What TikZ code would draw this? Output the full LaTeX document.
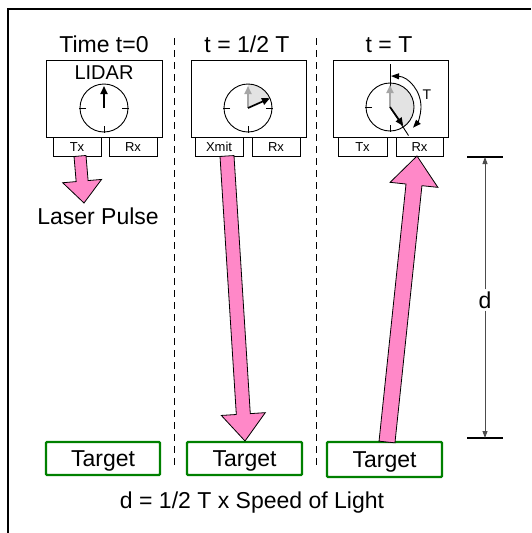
\documentclass[tikz,border=0pt]{standalone}
\usepackage{fontspec}
\setmainfont{Liberation Sans}
\usetikzlibrary{calc,arrows.meta}
\definecolor{pinkfill}{RGB}{255,136,200}
\definecolor{tgreen}{RGB}{0,128,0}
\definecolor{handgray}{RGB}{166,166,166}
\definecolor{sectorgray}{RGB}{227,227,227}
\newcommand\fatarrow[5]{%
  \path ($(#2)!#5!(#1)$) coordinate (fah);
  \draw[pinkarrow] ($(#1)!#3!90:(#2)$) -- ($(fah)!#3!90:(#2)$) -- ($(fah)!#4!90:(#2)$) -- (#2)
    -- ($(fah)!#4!-90:(#2)$) -- ($(fah)!#3!-90:(#2)$) -- ($(#1)!#3!-90:(#2)$) -- cycle;}
\begin{document}
\begin{tikzpicture}[x=1pt,y=1pt,
  big/.style={font=\fontsize{23}{27}\selectfont},
  mid/.style={font=\fontsize{20}{24}\selectfont},
  small/.style={font=\fontsize{13}{15}\selectfont},
  unitbox/.style={draw, line width=0.8pt, inner sep=0pt},
  subbox/.style={draw, line width=0.8pt, inner sep=0pt, minimum height=19pt, small, text height=9.5pt, text depth=0pt},
  target/.style={draw=tgreen, line width=2.2pt, rounded corners=1pt, inner sep=0pt, minimum height=33pt, big, text height=16.5pt, text depth=0pt},
  pinkarrow/.style={draw=black, line width=0.8pt, fill=pinkfill, line join=miter},
  sep/.style={draw, line width=0.8pt, dash pattern=on 7pt off 5pt},
  clockface/.style={draw, line width=0.9pt},
  tick/.style={draw, line width=0.9pt},
  blackhand/.style={draw, line width=1.7pt, -{Triangle[length=8pt,width=7pt]}},
  grayhand/.style={draw=handgray, line width=1.7pt, -{Triangle[length=8pt,width=7pt]}},
  dimline/.style={draw=black!70, line width=0.9pt, -{Triangle[length=7pt,width=5pt]}},
]
\useasboundingbox (0,0) rectangle (531,-533);
% outer frame
\draw[line width=2pt] (7.5,-533) -- (7.5,-8.5) -- (531,-8.5);

% separators
\draw[sep] (174,-38) -- (174,-465);
\draw[sep] (316,-38) -- (316,-465);

% headers
\node[big, anchor=base] (h1) at (104,-52) {Time t=0};
\node[big, anchor=base] (h2) at (247,-52) {t = 1/2 T};
\node[big, anchor=base] (h3) at (389,-52) {t = T};

% unit boxes
\node[unitbox, minimum width=116pt, minimum height=77pt] (box1) at (104,-98.5) {};
\node[unitbox, minimum width=115pt, minimum height=77pt] (box2) at (248.5,-98.5) {};
\node[unitbox, minimum width=115pt, minimum height=77pt] (box3) at (390.5,-98.5) {};
\node[mid, anchor=base] (lidar) at (104,-79) {LIDAR};

% sub boxes
\node[subbox, minimum width=48pt] (tx1) at (77,-146.5) {Tx};
\node[subbox, minimum width=48pt] (rx1) at (133,-146.5) {Rx};
\node[subbox, minimum width=48pt] (xmit2) at (219,-146.5) {Xmit};
\node[subbox, minimum width=48pt] (rx2) at (276,-146.5) {Rx};
\node[subbox, minimum width=49pt] (tx3) at (362.5,-146.5) {Tx};
\node[subbox, minimum width=47pt] (rx3) at (419.5,-146.5) {Rx};

% clock 1
\coordinate (c1) at (104,-108);
\draw[clockface] (c1) circle[radius=24];
\foreach \a in {0,180,270} \draw[tick] (c1) ++(\a:18) -- ++(\a:7);
\draw[blackhand] (c1) -- ++(90:22);

% clock 2
\coordinate (c2) at (248,-108);
\fill[sectorgray] (c2) -- ++(90:24) arc[start angle=90, end angle=24, radius=24] -- cycle;
\draw[clockface] (c2) circle[radius=24];
\foreach \a in {0,180,270} \draw[tick] (c2) ++(\a:18) -- ++(\a:7);
\draw[grayhand] (c2) -- ++(90:22);
\draw[blackhand] (c2) -- ++(24:24);

% clock 3
\coordinate (c3) at (390,-107);
\fill[sectorgray] (c3) -- ++(90:24) arc[start angle=90, end angle=-56, radius=24] -- cycle;
\draw[clockface] (c3) circle[radius=24];
\foreach \a in {180,270} \draw[tick] (c3) ++(\a:18) -- ++(\a:7);
\draw[line width=0.9pt] (c3) -- ++(90:43);
\draw[line width=0.9pt] (c3) -- ++(-57:34);
\draw[grayhand] (c3) -- ++(90:22);
\draw[blackhand] (c3) -- ++(-55:23);
\draw[line width=0.9pt, {Triangle[length=8pt,width=6pt]}-{Triangle[length=8pt,width=6pt]}]
  (c3) ++(88:31) arc[start angle=88, end angle=-42, radius=31];
\node[small, font=\fontsize{14}{16}\selectfont] (tlab) at (427,-95) {T};

% laser pulse label
\node[big, anchor=base] (pulse) at (98,-224) {Laser Pulse};

% targets
\node[target, minimum width=114pt] (t1) at (103,-458.5) {Target};
\node[target, minimum width=115pt] (t2) at (244.5,-458.5) {Target};
\node[target, minimum width=115pt, minimum height=35pt] (t3) at (384.5,-459.5) {Target};

% formula
\node[big, anchor=base] (formula) at (252,-508) {d = 1/2 T x Speed of Light};

% pink arrows
\coordinate (p1s) at (80,-156);
\coordinate (p1e) at (84,-203);
\fatarrow{p1s}{p1e}{6pt}{19.5pt}{22pt}
\coordinate (p2s) at (227,-156);
\coordinate (p2e) at (245,-441);
\fatarrow{p2s}{p2e}{7pt}{22pt}{27pt}
\coordinate (p3s) at (387,-442);
\coordinate (p3e) at (417,-156);
\fatarrow{p3s}{p3e}{8pt}{24pt}{29pt}

% dimension d
\coordinate (dtop) at (485,-157);
\coordinate (dbot) at (485,-438);
\draw[line width=1.2pt] (467,-157) -- (503,-157);
\draw[line width=1.2pt] (467,-438) -- (503,-438);
\node[big, inner sep=2pt] (dlab) at (485,-300) {d};
\draw[dimline] (dlab.north) -- (dtop);
\draw[dimline] (dlab.south) -- (dbot);
\end{tikzpicture}
\end{document}
